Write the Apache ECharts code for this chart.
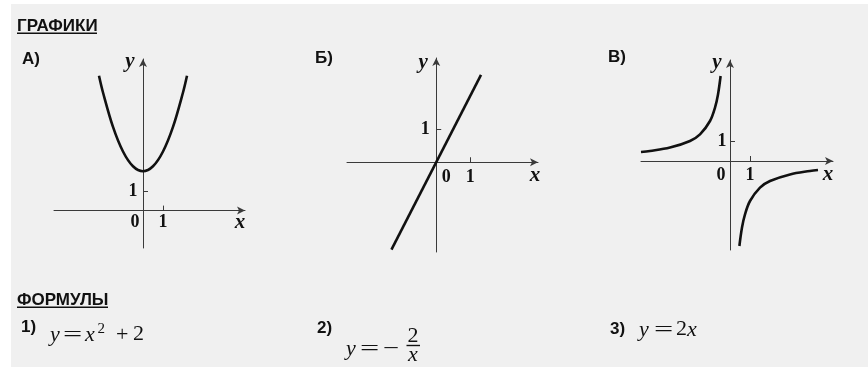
<!DOCTYPE html>
<html>
<head>
<meta charset="utf-8">
<script src="https://cdn.jsdelivr.net/npm/echarts@6/dist/echarts.min.js"></script>
<style>
html,body{margin:0;padding:0;background:#ffffff;}
#wrap{position:relative;width:868px;height:367px;background:#ffffff;overflow:hidden;}
#panel{position:absolute;left:11px;top:4px;width:857px;height:363px;background:#f0f0f0;}
#chart{position:absolute;left:0;top:0;width:868px;height:367px;}
</style>
</head>
<body>
<div id="wrap"><div id="panel"></div><div id="chart"></div></div>
<script>
// ---- data ----
// А) parabola
const parabolaX = [-2.2, -2, -1.5, -1, -0.5, 0, 0.5, 1, 1.5, 2, 2.2];
const parabolaY = [6.85, 6, 4.25, 3, 2.25, 2, 2.25, 3, 4.25, 6, 6.85];
// Б) straight line
const lineX = [-1.32, 1.32];
const lineY = [-2.65, 2.65];
// В) hyperbola, two branches
const hypLeftX = [-4.45, -4, -3, -2, -1.5, -1, -0.75, -0.6, -0.47];
const hypLeftY = [0.45, 0.5, 0.67, 1, 1.33, 2, 2.67, 3.33, 4.25];
const hypRightX = [0.47, 0.6, 0.75, 1, 1.5, 2, 3, 4, 4.4];
const hypRightY = [-4.25, -3.33, -2.67, -2, -1.33, -1, -0.67, -0.5, -0.45];
// tick labels
const tickValues = [1];
const tickLabel = '1';
const zeroLabel = '0';
const axisNames = ['x', 'y'];
// texts
const titleGraphs = 'ГРАФИКИ';
const titleFormulas = 'ФОРМУЛЫ';
const graphLetters = ['А)', 'Б)', 'В)'];
const formulaNumbers = ['1)', '2)', '3)'];

function zip(a, b) { return a.map((v, i) => [v, b[i]]); }

const chart = echarts.init(document.getElementById('chart'), null, {renderer: 'canvas'});

const grids = [
  {left: 54, top: 59, width: 191, height: 189},
  {left: 347, top: 58, width: 191, height: 194},
  {left: 641, top: 60, width: 192, height: 190}
];
const ranges = [
  {xmin: -4.45, xmax: 5.1, ymin: -1.9, ymax: 7.7},
  {xmin: -2.63, xmax: 3.0, ymin: -2.72, ymax: 3.16},
  {xmin: -4.45, xmax: 5.15, ymin: -4.45, ymax: 5.05}
];

const axisColor = '#3a3a3a';
const serif = '"Liberation Serif", "DejaVu Serif", serif';
const sans = '"Liberation Sans", Arial, sans-serif';

function axis(i, isX) {
  const r = ranges[i];
  return {
    gridIndex: i, type: 'value', min: isX ? r.xmin : r.ymin, max: isX ? r.xmax : r.ymax,
    axisLine: {show: true, onZero: true, symbol: ['none', 'arrow'], symbolSize: [6, 8],
      lineStyle: {color: axisColor, width: 1}},
    axisTick: {show: true, inside: true, length: 5, customValues: tickValues,
      lineStyle: {color: axisColor, width: 1}},
    axisLabel: {show: false},
    splitLine: {show: false}
  };
}

const curveStyle = {color: '#111', width: 2.6};
function curve(i, x, y) {
  return {type: 'line', xAxisIndex: i, yAxisIndex: i, data: zip(x, y), smooth: 0.35,
    showSymbol: false, symbol: 'none', lineStyle: curveStyle, silent: true, animation: false};
}

chart.setOption({
  animation: false,
  backgroundColor: 'transparent',
  grid: grids.map(g => Object.assign({containLabel: false, outerBoundsMode: 'none'}, g)),
  xAxis: [0, 1, 2].map(i => axis(i, true)),
  yAxis: [0, 1, 2].map(i => axis(i, false)),
  series: [
    curve(0, parabolaX, parabolaY),
    curve(1, lineX, lineY),
    curve(2, hypLeftX, hypLeftY),
    curve(2, hypRightX, hypRightY)
  ]
});

// ---- text placed relative to each axis ----
const els = [];
function txt(x, y, text, font, align, va, sx) {
  els.push({type: 'text', x: x, y: y, silent: true, scaleX: sx || 1, z: 10,
    style: {text: text, font: font, fill: '#111', align: align || 'left', verticalAlign: va || 'middle'}});
}
function bar(x, y, w, h) {
  els.push({type: 'rect', silent: true, z: 10, shape: {x: x, y: y, width: w, height: h}, style: {fill: '#111'}});
}
const nameFont = 'italic bold 21px ' + serif;
const tickFont = 'bold 18px ' + serif;
// offsets relative to axis points
const offs = [
  {xn: [-5, 12], yn: [-13, 3], z: [-8, 12], x1: 12, y1: -10},
  {xn: [-3, 13], yn: [-13, 5], z: [10, 15], x1: 15, y1: -11},
  {xn: [-5, 14], yn: [-13, 3], z: [-9, 14], x1: 14, y1: -8}
];
for (let i = 0; i < 3; i++) {
  const r = ranges[i];
  const o = chart.convertToPixel({gridIndex: i}, [0, 0]);
  const xe = chart.convertToPixel({gridIndex: i}, [r.xmax, 0]);
  const ye = chart.convertToPixel({gridIndex: i}, [0, r.ymax]);
  const xt = chart.convertToPixel({gridIndex: i}, [tickValues[0], 0]);
  const yt = chart.convertToPixel({gridIndex: i}, [0, tickValues[0]]);
  txt(xe[0] + offs[i].xn[0], xe[1] + offs[i].xn[1], axisNames[0], nameFont, 'center');
  txt(ye[0] + offs[i].yn[0], ye[1] + offs[i].yn[1], axisNames[1], nameFont, 'center');
  txt(o[0] + offs[i].z[0], o[1] + offs[i].z[1], zeroLabel, tickFont, 'center');
  txt(xt[0], xt[1] + offs[i].x1, tickLabel, tickFont, 'center');
  txt(yt[0] + offs[i].y1, yt[1], tickLabel, tickFont, 'center');
}

// ---- headers ----
const hFont = 'bold 17px ' + sans;
txt(17, 26.5, titleGraphs, hFont);
bar(17, 32.6, 80, 1.5);
txt(22, 59.5, graphLetters[0], hFont);
txt(315, 58.5, graphLetters[1], hFont);
txt(608, 57.5, graphLetters[2], hFont);
txt(17, 300.5, titleFormulas, hFont);
bar(17, 306.6, 91, 1.5);
txt(21, 327.5, formulaNumbers[0], hFont);
txt(317, 328.5, formulaNumbers[1], hFont);
txt(610, 329.5, formulaNumbers[2], hFont);

// ---- formulas ----
const mi = 'italic 22px ' + serif;
const mn = '22px ' + serif;
const ms = '15px ' + serif;
// 1) y = x^2 + 2
txt(50, 335, 'y', mi);
txt(63, 335, '=', mn, 'left', 'middle', 1.55);
txt(85, 335, 'x', mi);
txt(97.5, 329, '2', ms);
txt(116, 335, '+', mn);
txt(133, 334, '2', mn);
// 2) y = - 2/x
txt(346, 349, 'y', mi);
txt(360, 349, '=', mn, 'left', 'middle', 1.55);
txt(383, 349, '\u2212', mn, 'left', 'middle', 1.3);
txt(413, 336.5, '2', mn, 'center');
bar(406.5, 344.8, 13.5, 1.4);
txt(413, 355, 'x', mi, 'center');
// 3) y = 2x
txt(639, 330, 'y', mi);
txt(654, 330, '=', mn, 'left', 'middle', 1.55);
txt(676, 329, '2', mn);
txt(687, 330, 'x', mi);

chart.setOption({graphic: {elements: els}});
</script>
</body>
</html>
